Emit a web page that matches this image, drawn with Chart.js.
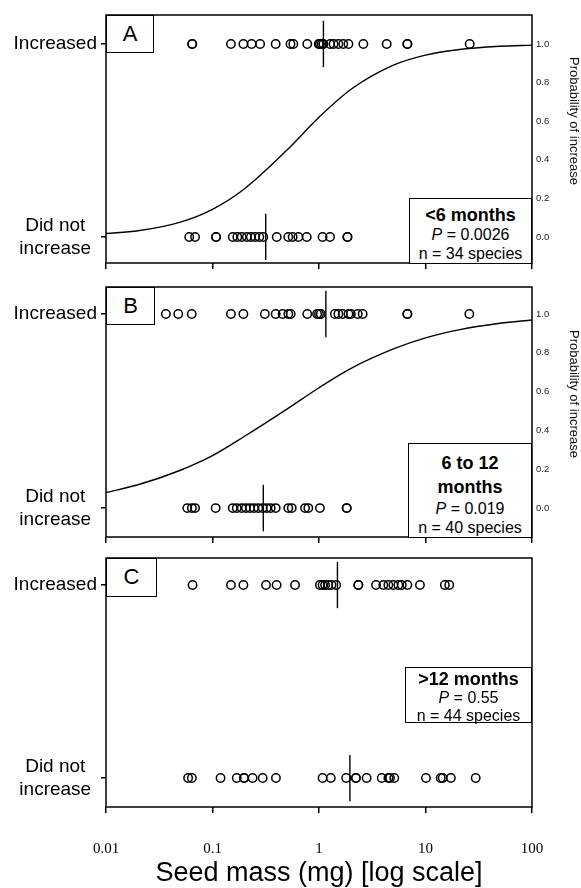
<!DOCTYPE html>
<html>
<head>
<meta charset="utf-8">
<script src="https://cdn.jsdelivr.net/npm/chart.js@4.4.1/dist/chart.umd.min.js"></script>
<style>
  body { margin: 0; background: #fff; font-family: 'Liberation Sans', Arial, sans-serif; }
  #wrap { position: relative; width: 581px; height: 888px; overflow: hidden; }
  canvas { position: absolute; left: 0; }
  .tag { position: absolute; box-sizing: border-box; border: 1.5px solid #000; background: #fff;
         font-size: 22px; text-align: center; }
  .info { position: absolute; box-sizing: border-box; border: 1.5px solid #000; background: #fff;
          text-align: center; font-size: 16px; line-height: 19px; color: #000; }
  .info b { font-size: 18px; display: block; line-height: 20px; }
  .ptitle { position: absolute; writing-mode: vertical-rl; font-size: 13px; white-space: nowrap; color: #111; }
</style>
</head>
<body>
<div id="wrap">
  <canvas id="chartA" width="581" height="280" style="top:0"></canvas>
  <canvas id="chartB" width="581" height="272" style="top:280px"></canvas>
  <canvas id="chartC" width="581" height="343" style="top:545px"></canvas>

  <div class="tag" style="left:106px;top:15px;width:48px;height:38px;line-height:35px">A</div>
  <div class="tag" style="left:106px;top:287px;width:49px;height:38px;line-height:35px">B</div>
  <div class="tag" style="left:106px;top:558px;width:51px;height:39px;line-height:36px">C</div>

  <div class="info" style="left:409px;top:198px;width:123px;height:66px;padding-top:6px">
    <b>&lt;6 months</b><i>P</i> = 0.0026<br>n = 34 species
  </div>
  <div class="info" style="left:408px;top:443px;width:124px;height:95px;padding-top:7px">
    <b style="line-height:24px">6 to 12<br>months</b><i>P</i> = 0.019<br>n = 40 species
  </div>
  <div class="info" style="left:405px;top:667px;width:127px;height:56px;padding-top:2px;line-height:18px">
    <b style="line-height:19px">&gt;12 months</b><i>P</i> = 0.55<br>n = 44 species
  </div>

  <div class="ptitle" style="left:567px;top:57px">Probability of increase</div>
  <div class="ptitle" style="left:567px;top:330px">Probability of increase</div>
</div>

<script>
// seed mass (mg) of species that increased / did not increase, per period
const aIncreased = [0.0645, 0.0645, 0.149, 0.195, 0.233, 0.28, 0.392, 0.54, 0.574, 0.776,
  0.993, 1.02, 1.06, 1.1, 1.27, 1.37, 1.52, 1.69, 1.89, 2.61, 4.32, 6.76, 6.76, 26];
const aNotIncreased = [0.0605, 0.0686, 0.108, 0.108, 0.155, 0.171, 0.188, 0.21, 0.229, 0.251,
  0.275, 0.3, 0.401, 0.515, 0.566, 0.64, 0.767, 1.08, 1.27, 1.85, 1.85];
const bIncreased = [0.0365, 0.0477, 0.0638, 0.149, 0.195, 0.31, 0.392, 0.455, 0.515, 0.542,
  0.776, 0.96, 1.0, 1.04, 1.41, 1.52, 1.67, 1.89, 1.99, 2.31, 2.57, 6.76, 6.76, 25.8];
const bNotIncreased = [0.058, 0.064, 0.0686, 0.107, 0.155, 0.169, 0.188, 0.206, 0.225, 0.245,
  0.269, 0.296, 0.323, 0.352, 0.392, 0.515, 0.555, 0.74, 0.794, 1.02, 1.82, 1.82];
const cIncreased = [0.065, 0.149, 0.195, 0.318, 0.4, 0.596, 1.02, 1.08, 1.14, 1.22, 1.31, 1.45,
  2.34, 2.34, 3.43, 4.02, 4.48, 4.99, 5.56, 5.99, 6.76, 8.87, 15.2, 16.7];
const cNotIncreased = [0.059, 0.064, 0.119, 0.169, 0.198, 0.198, 0.238, 0.296, 0.394, 1.08, 1.29,
  1.8, 2.22, 2.22, 2.8, 3.88, 4.48, 4.64, 5.09, 10.1, 13.9, 14.5, 17.3, 29.6];

// medians (vertical bars): [increased, did not increase]
const aMedians = [1.1, 0.316];
const bMedians = [1.16, 0.30];
const cMedians = [1.49, 1.95];

// fitted probability curves
const curveMass = [0.01, 0.02, 0.05, 0.1, 0.2, 0.5, 1, 2, 5, 10, 20, 50, 100];
const aCurve = [0.018, 0.032, 0.077, 0.143, 0.25, 0.45, 0.62, 0.765, 0.89, 0.942, 0.97, 0.988, 0.994];
const bCurve = [0.08, 0.12, 0.195, 0.27, 0.37, 0.51, 0.62, 0.72, 0.82, 0.877, 0.917, 0.952, 0.969];

const massTicks = [0.01, 0.1, 1, 10, 100];
const massTickLabels = ["0.01", "0.1", "1", "10", "100"];
const outcomeTicks = [0, 1];
const probTicks = [0, 0.2, 0.4, 0.6, 0.8, 1.0];

Chart.defaults.font.family = "'Liberation Sans', Arial, sans-serif";
Chart.defaults.color = "#000";

const frame = {
  id: "frame",
  afterDraw(chart) {
    const { ctx, chartArea: a } = chart;
    ctx.save();
    ctx.strokeStyle = "#000";
    ctx.lineWidth = 1.5;
    ctx.strokeRect(a.left, a.top, a.right - a.left, a.bottom - a.top);
    ctx.restore();
  },
};

const noPad = (s) => {
  s.paddingTop = 0;
  s.paddingBottom = 0;
  s.paddingLeft = 0;
  s.paddingRight = 0;
};

const dots = (vals, y) => ({
  data: vals.map((x) => ({ x, y })),
  pointRadius: 4.2,
  pointBorderWidth: 1.5,
  pointBorderColor: "#000",
  pointBackgroundColor: "rgba(0,0,0,0)",
});

const bar = (x, y) => ({
  data: [{ x, y: y - 0.12 }, { x, y: y + 0.12 }],
  showLine: true,
  pointRadius: 0,
  borderColor: "#000",
  borderWidth: 1.4,
});

function panel(id, p) {
  const datasets = [dots(p.inc, 1), dots(p.not, 0), bar(p.med[0], 1), bar(p.med[1], 0)];
  if (p.curve) {
    datasets.push({
      data: curveMass.map((x, i) => ({ x, y: p.curve[i] })),
      showLine: true,
      pointRadius: 0,
      borderColor: "#000",
      borderWidth: 1.4,
      cubicInterpolationMode: "monotone",
    });
  }

  const scales = {
    x: {
      type: "logarithmic",
      min: 0.01,
      max: 100,
      afterBuildTicks: (s) => { s.ticks = massTicks.map((v) => ({ value: v })); },
      afterFit: (s) => { s.height = p.xHeight; noPad(s); },
      grid: { drawOnChartArea: false, color: "#000", lineWidth: 1.5, tickLength: 6 },
      border: { display: false },
      ticks: {
        display: !!p.labels,
        autoSkip: false,
        maxRotation: 0,
        padding: 27,
        font: { family: "'Liberation Serif', 'Times New Roman', serif", size: 15 },
        callback: (v, i) => massTickLabels[i],
      },
      title: {
        display: !!p.labels,
        text: "Seed mass (mg) [log scale]",
        font: { size: 27, lineHeight: 1 },
        padding: { top: 0, bottom: 1 },
      },
    },
    y: {
      position: "left",
      min: p.yMin,
      max: p.yMax,
      afterBuildTicks: (s) => { s.ticks = outcomeTicks.map((v) => ({ value: v })); },
      afterFit: (s) => { s.width = 106; noPad(s); },
      grid: { drawOnChartArea: false, color: "#000", lineWidth: 1.5, tickLength: 5 },
      border: { display: false },
      ticks: {
        crossAlign: "center",
        padding: 4,
        font: { size: 19 },
        callback: (v) => (v === 1 ? "Increased" : ["Did not", "increase"]),
      },
    },
  };
  if (p.curve) {
    scales.y2 = {
      position: "right",
      min: p.yMin,
      max: p.yMax,
      afterBuildTicks: (s) => { s.ticks = probTicks.map((v) => ({ value: v })); },
      afterFit: (s) => { s.width = 49; noPad(s); },
      grid: { display: false, drawTicks: false },
      border: { display: false },
      ticks: { padding: 4, color: "#222", font: { size: 9.5 }, callback: (v) => v.toFixed(1) },
    };
  }

  new Chart(document.getElementById(id), {
    type: "scatter",
    data: { datasets },
    options: {
      responsive: false,
      animation: false,
      layout: { padding: { top: p.padTop, right: p.curve ? 0 : 49, left: 0, bottom: 0 } },
      plugins: { legend: { display: false }, tooltip: { enabled: false } },
      scales,
    },
    plugins: [frame],
  });
}

panel("chartA", { inc: aIncreased, not: aNotIncreased, med: aMedians, curve: aCurve,
  yMin: -0.135, yMax: 1.15, padTop: 15, xHeight: 17 });
panel("chartB", { inc: bIncreased, not: bNotIncreased, med: bMedians, curve: bCurve,
  yMin: -0.149, yMax: 1.139, padTop: 7, xHeight: 15 });
panel("chartC", { inc: cIncreased, not: cNotIncreased, med: cMedians,
  yMin: -0.15, yMax: 1.14, padTop: 13, xHeight: 81, labels: true });
</script>
</body>
</html>
